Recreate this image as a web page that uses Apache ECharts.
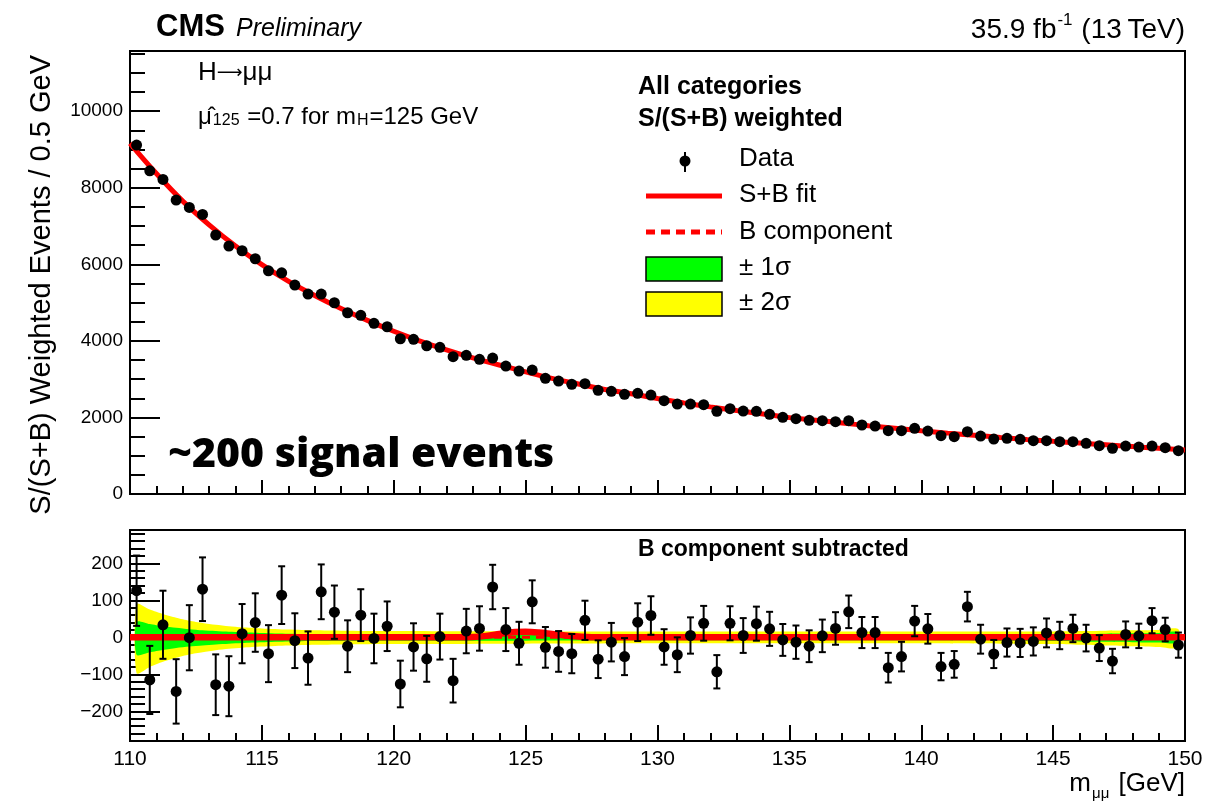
<!DOCTYPE html>
<html>
<head>
<meta charset="utf-8">
<script src="https://cdn.jsdelivr.net/npm/echarts@6/dist/echarts.min.js"></script>
<style>
  html, body { margin: 0; padding: 0; background: #ffffff; }
  #chart { width: 1231px; height: 804px; }
</style>
</head>
<body>
<div id="chart"></div>
<script>
// Dimuon invariant mass, 0.5 GeV bins (bin centres in GeV)
const binCenter = [110.25, 110.75, 111.25, 111.75, 112.25, 112.75, 113.25, 113.75, 114.25, 114.75,
  115.25, 115.75, 116.25, 116.75, 117.25, 117.75, 118.25, 118.75, 119.25, 119.75,
  120.25, 120.75, 121.25, 121.75, 122.25, 122.75, 123.25, 123.75, 124.25, 124.75,
  125.25, 125.75, 126.25, 126.75, 127.25, 127.75, 128.25, 128.75, 129.25, 129.75,
  130.25, 130.75, 131.25, 131.75, 132.25, 132.75, 133.25, 133.75, 134.25, 134.75,
  135.25, 135.75, 136.25, 136.75, 137.25, 137.75, 138.25, 138.75, 139.25, 139.75,
  140.25, 140.75, 141.25, 141.75, 142.25, 142.75, 143.25, 143.75, 144.25, 144.75,
  145.25, 145.75, 146.25, 146.75, 147.25, 147.75, 148.25, 148.75, 149.25, 149.75];

// S/(S+B) weighted events per bin
const weightedEvents = [9112, 8441, 8216, 7676, 7485, 7302, 6762, 6475, 6353, 6144,
  5830, 5778, 5457, 5222, 5222, 4995, 4734, 4666, 4457, 4368,
  4055, 4039, 3872, 3830, 3585, 3621, 3517, 3551, 3342, 3211,
  3238, 3021, 2950, 2864, 2880, 2708, 2681, 2603, 2629, 2585,
  2436, 2350, 2350, 2332, 2159, 2227, 2167, 2159, 2081, 2003,
  1966, 1924, 1914, 1888, 1914, 1802, 1775, 1653, 1653, 1715,
  1645, 1522, 1496, 1627, 1514, 1436, 1454, 1428, 1392, 1392,
  1366, 1366, 1323, 1261, 1193, 1253, 1227, 1253, 1209, 1131];

// Data minus the background component
const subtracted = [126, -115, 34, -146, -1, 130, -128, -132, 10, 40,
  -44, 114, -9, -56, 123, 68, -24, 60, -3, 30,
  -126, -26, -58, 2, -117, 17, 24, 136, 21, -16,
  96, -27, -38, -44, 46, -59, -13, -52, 41, 59,
  -26, -47, 5, 38, -93, 38, 5, 37, 23, -7,
  -13, -24, 4, 24, 69, 13, 13, -82, -52, 44,
  23, -79, -73, 83, -5, -45, -14, -15, -11, 12,
  5, 24, -2, -29, -64, 8, 4, 45, 21, -21];

// Statistical uncertainty per bin
const binError = [95, 92, 92, 87, 88, 86, 82, 81, 80, 79,
  77, 78, 74, 72, 74, 72, 70, 70, 67, 67,
  63, 64, 62, 62, 59, 60, 60, 60, 58, 58,
  58, 55, 55, 53, 53, 51, 52, 50, 51, 52,
  48, 47, 49, 47, 45, 46, 47, 46, 46, 43,
  45, 43, 44, 44, 44, 42, 42, 40, 40, 41,
  40, 37, 36, 40, 39, 38, 38, 38, 38, 39,
  37, 37, 36, 35, 33, 35, 33, 34, 32, 34];

// S+B fit curve
const fitMass = [110, 111, 112, 113, 114, 115, 116, 117, 118, 119,
  120, 121, 122, 123, 124, 125, 126, 127, 128, 129,
  130, 131, 132, 133, 134, 135, 136, 137, 138, 139,
  140, 141, 142, 143, 144, 145, 146, 147, 148, 149, 150];
const fitValue = [9160, 8370, 7650, 7030, 6475, 5990, 5560, 5185, 4845, 4535,
  4250, 3995, 3765, 3555, 3370, 3190, 3020, 2872, 2730, 2620,
  2495, 2380, 2275, 2180, 2092, 1995, 1926, 1856, 1782, 1718,
  1652, 1590, 1535, 1478, 1425, 1375, 1330, 1285, 1240, 1195, 1150];

// Signal part of the fit after background subtraction
const signalMass = [110, 122.5, 123, 123.5, 124, 124.5, 125, 125.5, 126, 126.5, 127, 127.5, 150];
const signalValue = [0, 0, 1, 4, 9, 14, 15, 13, 9, 5, 2, 0, 0];

// Background component after subtraction
const bkgMass = [110, 150];
const bkgValue = [0, 0];

// Background fit uncertainty bands
const bandMass = [110.25, 110.75, 111.25, 111.75, 112.25, 112.75, 113.25, 113.75, 114.25, 115,
  116, 117, 118, 120, 125, 130, 135, 140, 143, 145, 146, 147, 148, 149, 149.75];
const band2Hi = [90, 75, 63, 53, 45, 39, 34, 30, 27, 24, 21, 19, 18, 17, 16, 16, 16, 16, 16, 16, 17, 18, 19, 20, 22];
const band2Lo = [-97, -80, -66, -55, -46, -40, -35, -31, -28, -25, -22, -20, -19, -18, -17, -16, -16, -16, -17, -18, -20, -22, -24, -26, -28];
const band1Hi = [42, 36, 30, 26, 22, 19, 17, 15, 14, 12, 10, 9, 9, 8, 8, 8, 8, 8, 8, 8, 9, 10, 11, 12, 14];
const band1Lo = [-47, -40, -34, -29, -25, -22, -19, -17, -15, -13, -11, -10, -10, -9, -9, -8, -8, -8, -9, -10, -11, -12, -13, -14, -15];

const FONT = '"Liberation Sans", Arial, Helvetica, sans-serif';
const chart = echarts.init(document.getElementById('chart'), null, { renderer: 'canvas' });

function zip(a, b) { return a.map((v, i) => [v, b[i]]); }

function bandSeries(lo, hi, color, z) {
  return {
    type: 'custom', xAxisIndex: 1, yAxisIndex: 2, z: z, silent: true,
    data: bandMass.map((m, i) => [m, lo[i], hi[i]]),
    encode: { x: 0, y: [1, 2] },
    renderItem: function (params, api) {
      if (params.dataIndex !== 0) return null;
      const upper = [], lower = [];
      for (let i = 0; i < bandMass.length; i++) {
        upper.push(api.coord([bandMass[i], hi[i]]));
        lower.push(api.coord([bandMass[i], lo[i]]));
      }
      return {
        type: 'polygon',
        shape: { points: upper.concat(lower.reverse()), smooth: 0.25 },
        style: { fill: color }
      };
    }
  };
}

function errorSeries(values, xi, yi, cap) {
  return {
    type: 'custom', xAxisIndex: xi, yAxisIndex: yi, z: 8, silent: true,
    data: binCenter.map((m, i) => [m, values[i], binError[i]]),
    encode: { x: 0, y: 1 },
    renderItem: function (params, api) {
      const x = api.value(0), y = api.value(1), e = api.value(2);
      const top = api.coord([x, y + e]);
      const bot = api.coord([x, y - e]);
      const st = { stroke: '#000', lineWidth: 2 };
      const kids = [{ type: 'line', shape: { x1: top[0], y1: top[1], x2: bot[0], y2: bot[1] }, style: st }];
      if (cap > 0) {
        kids.push({ type: 'line', shape: { x1: top[0] - cap, y1: top[1], x2: top[0] + cap, y2: top[1] }, style: st });
        kids.push({ type: 'line', shape: { x1: bot[0] - cap, y1: bot[1], x2: bot[0] + cap, y2: bot[1] }, style: st });
      }
      return { type: 'group', children: kids };
    }
  };
}

const tickStyle = { color: '#000', width: 2 };

function xAxisCfg(grid, showLabels) {
  return {
    type: 'value', gridIndex: grid, min: 110, max: 150, interval: 5,
    axisLine: { show: true, onZero: false, lineStyle: { color: '#000', width: 2 } },
    axisTick: { show: true, inside: true, length: showLabels ? 16 : 14, lineStyle: tickStyle },
    minorTick: { show: true, splitNumber: 5, length: 8, lineStyle: tickStyle },
    axisLabel: { show: showLabels, color: '#000', fontSize: 21, fontFamily: FONT, margin: 8 },
    splitLine: { show: false }
  };
}

const plainFmt = v => String(v).replace('-', '\u2212');

const option = {
  animation: false,
  backgroundColor: '#ffffff',
  grid: [
    { left: 130, top: 51, width: 1055, height: 443, show: true, borderColor: '#000', borderWidth: 2, backgroundColor: 'transparent' },
    { left: 130, top: 530, width: 1055, height: 211, show: true, borderColor: '#000', borderWidth: 2, backgroundColor: 'transparent' }
  ],
  xAxis: [xAxisCfg(0, false), xAxisCfg(1, true)],
  yAxis: [
    {
      type: 'value', gridIndex: 0, min: 0, max: 11570, interval: 2000,
      axisLine: { show: true, lineStyle: { color: '#000', width: 2 } },
      axisTick: { show: true, inside: true, length: 30, lineStyle: tickStyle },
      axisLabel: { color: '#000', fontSize: 19, fontFamily: FONT, margin: 7, showMaxLabel: false, formatter: plainFmt },
      splitLine: { show: false }
    },
    {
      type: 'value', gridIndex: 0, min: 0, max: 11570, interval: 500, position: 'left',
      axisLine: { show: false },
      axisTick: { show: true, inside: true, length: 15, lineStyle: tickStyle },
      axisLabel: { show: false }, splitLine: { show: false }
    },
    {
      type: 'value', gridIndex: 1, min: -280, max: 290, splitNumber: 5,
      axisLine: { show: true, lineStyle: { color: '#000', width: 2 } },
      axisTick: { show: true, inside: true, length: 30, lineStyle: tickStyle },
      axisLabel: { color: '#000', fontSize: 19, fontFamily: FONT, margin: 7, showMinLabel: false, showMaxLabel: false, formatter: plainFmt },
      splitLine: { show: false }
    },
    {
      type: 'value', gridIndex: 1, min: -280, max: 290, interval: 20, position: 'left',
      axisLine: { show: false },
      axisTick: { show: true, inside: true, length: 15, lineStyle: tickStyle },
      axisLabel: { show: false }, splitLine: { show: false }
    }
  ],
  series: [
    // upper panel
    {
      name: 'S+B fit', type: 'line', xAxisIndex: 0, yAxisIndex: 0, z: 3,
      data: zip(fitMass, fitValue), smooth: 0.4, showSymbol: false, symbol: 'none',
      lineStyle: { color: '#ff0000', width: 5 }, silent: true
    },
    errorSeries(weightedEvents, 0, 0, 0),
    {
      name: 'Data', type: 'scatter', xAxisIndex: 0, yAxisIndex: 0, z: 9,
      data: zip(binCenter, weightedEvents), symbol: 'circle', symbolSize: 11,
      itemStyle: { color: '#000', opacity: 1 }, silent: true
    },
    // lower panel
    bandSeries(band2Lo, band2Hi, '#ffff00', 1),
    bandSeries(band1Lo, band1Hi, '#00ff00', 2),
    {
      name: 'B component', type: 'line', xAxisIndex: 1, yAxisIndex: 2, z: 3,
      data: zip(bkgMass, bkgValue), showSymbol: false, symbol: 'none',
      lineStyle: { color: '#ff0000', width: 3, type: [8, 6] }, silent: true
    },
    {
      name: 'S+B fit (subtracted)', type: 'line', xAxisIndex: 1, yAxisIndex: 2, z: 4,
      data: zip(signalMass, signalValue), smooth: 0.35, showSymbol: false, symbol: 'none',
      lineStyle: { color: '#ff0000', width: 6.5 }, silent: true
    },
    errorSeries(subtracted, 1, 2, 3.5),
    {
      name: 'Data (subtracted)', type: 'scatter', xAxisIndex: 1, yAxisIndex: 2, z: 9,
      data: zip(binCenter, subtracted), symbol: 'circle', symbolSize: 11,
      itemStyle: { color: '#000', opacity: 1 }, silent: true
    }
  ],
  graphic: [
    { type: 'text', x: 156, y: 27, style: { text: 'CMS', fontFamily: FONT, fontWeight: 'bold', fontSize: 31, fill: '#000', align: 'left', verticalAlign: 'middle' } },
    { type: 'text', x: 236, y: 29, style: { text: 'Preliminary', fontFamily: FONT, fontStyle: 'italic', fontSize: 25, fill: '#000', align: 'left', verticalAlign: 'middle' } },
    { type: 'text', x: 1185, y: 28, style: {
        text: '{a|35.9 fb}{s|-1}{a| (13\u2009TeV)}', align: 'right', verticalAlign: 'middle', fill: '#000',
        rich: {
          a: { fontFamily: FONT, fontSize: 28, lineHeight: 33, verticalAlign: 'bottom' },
          s: { fontFamily: FONT, fontSize: 17, lineHeight: 17, verticalAlign: 'top', padding: [0, 1, 0, 1] }
        } } },
    { type: 'text', x: 42, y: 55, rotation: Math.PI / 2, style: {
        text: 'S/(S+B) Weighted Events / 0.5 GeV', fontFamily: FONT, fontSize: 29, fill: '#000', align: 'right', verticalAlign: 'middle' } },
    { type: 'text', x: 198, y: 73, style: {
        text: '{a|H}{r|\u27f6}{a|\u03bc\u03bc}', align: 'left', verticalAlign: 'middle', fill: '#000',
        rich: {
          a: { fontFamily: FONT, fontSize: 26, lineHeight: 30 },
          r: { fontFamily: '"DejaVu Sans", ' + FONT, fontSize: 18, lineHeight: 30 }
        } } },
    { type: 'text', x: 198, y: 114, style: {
        text: '{a|\u03bc\u0302}{b|125}{a| =0.7 for m}{b|H}{a|=125 GeV}', align: 'left', verticalAlign: 'middle', fill: '#000',
        rich: {
          a: { fontFamily: FONT, fontSize: 24, lineHeight: 30, verticalAlign: 'bottom' },
          b: { fontFamily: FONT, fontSize: 16, lineHeight: 20, verticalAlign: 'bottom', padding: [0, 1, 0, 1] }
        } } },
    { type: 'text', x: 168, y: 455, style: { text: '~200 signal events', fontFamily: '"Open Sans", ' + FONT, fontWeight: 800, fontSize: 41, fill: '#000', align: 'left', verticalAlign: 'middle' } },
    // legend block
    { type: 'text', x: 638, y: 87, style: { text: 'All categories', fontFamily: FONT, fontWeight: 'bold', fontSize: 25, fill: '#000', align: 'left', verticalAlign: 'middle' } },
    { type: 'text', x: 638, y: 119, style: { text: 'S/(S+B) weighted', fontFamily: FONT, fontWeight: 'bold', fontSize: 25, fill: '#000', align: 'left', verticalAlign: 'middle' } },
    { type: 'line', shape: { x1: 685, y1: 152, x2: 685, y2: 172 }, style: { stroke: '#000', lineWidth: 2 } },
    { type: 'circle', shape: { cx: 685, cy: 161, r: 5.5 }, style: { fill: '#000' } },
    { type: 'text', x: 739, y: 159, style: { text: 'Data', fontFamily: FONT, fontSize: 26, fill: '#000', align: 'left', verticalAlign: 'middle' } },
    { type: 'line', shape: { x1: 646, y1: 196, x2: 722, y2: 196 }, style: { stroke: '#ff0000', lineWidth: 5 } },
    { type: 'text', x: 739, y: 195, style: { text: 'S+B fit', fontFamily: FONT, fontSize: 26, fill: '#000', align: 'left', verticalAlign: 'middle' } },
    { type: 'line', shape: { x1: 646, y1: 232, x2: 722, y2: 232 }, style: { stroke: '#ff0000', lineWidth: 5, lineDash: [9, 6] } },
    { type: 'text', x: 739, y: 232, style: { text: 'B component', fontFamily: FONT, fontSize: 26, fill: '#000', align: 'left', verticalAlign: 'middle' } },
    { type: 'rect', shape: { x: 646, y: 257, width: 76, height: 24 }, style: { fill: '#00ff00', stroke: '#000', lineWidth: 1.5 } },
    { type: 'text', x: 739, y: 268, style: { text: '\u00b1 1\u03c3', fontFamily: FONT, fontSize: 26, fill: '#000', align: 'left', verticalAlign: 'middle' } },
    { type: 'rect', shape: { x: 646, y: 292, width: 76, height: 24 }, style: { fill: '#ffff00', stroke: '#000', lineWidth: 1.5 } },
    { type: 'text', x: 739, y: 303, style: { text: '\u00b1 2\u03c3', fontFamily: FONT, fontSize: 26, fill: '#000', align: 'left', verticalAlign: 'middle' } },
    // lower panel caption and axis title
    { type: 'text', x: 638, y: 550, style: { text: 'B component subtracted', fontFamily: FONT, fontWeight: 'bold', fontSize: 23, fill: '#000', align: 'left', verticalAlign: 'middle' } },
    { type: 'text', x: 1185, y: 786, style: {
        text: '{a|m}{b|\u03bc\u03bc}{a| [GeV]}', align: 'right', verticalAlign: 'middle', fill: '#000',
        rich: {
          a: { fontFamily: FONT, fontSize: 26, lineHeight: 30, verticalAlign: 'top' },
          b: { fontFamily: FONT, fontSize: 15, lineHeight: 18, verticalAlign: 'bottom', padding: [0, 2, 0, 1] }
        } } }
  ]
};

chart.setOption(option);
</script>
</body>
</html>
